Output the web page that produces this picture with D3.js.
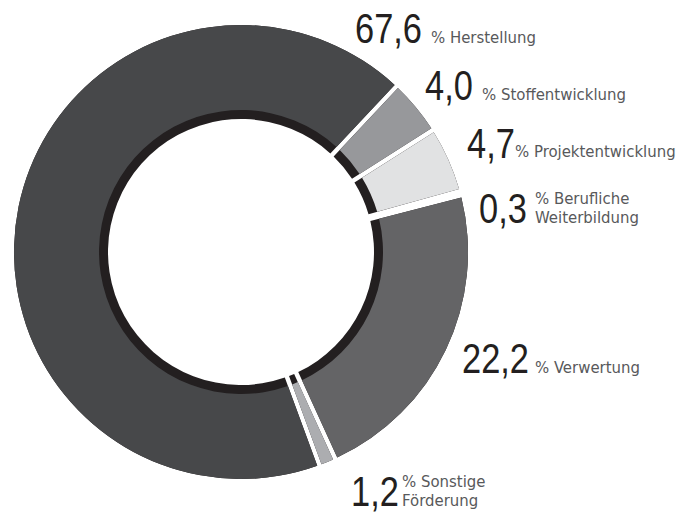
<!DOCTYPE html>
<html><head><meta charset="utf-8">
<script src="https://cdn.jsdelivr.net/npm/d3@7"></script>
<style>
html,body{margin:0;padding:0;background:#fff;}
.num{font-family:"Liberation Sans",Arial,sans-serif;fill:#231f20;font-size:42px;}
.lab{font-family:"DejaVu Sans Condensed","DejaVu Sans",sans-serif;font-stretch:condensed;fill:#58595b;font-size:16.6px;}
</style></head>
<body>
<svg id="c" width="695" height="515"></svg>
<script>
const categories = ["Herstellung","Stoffentwicklung","Projektentwicklung","Berufliche Weiterbildung","Verwertung","Sonstige Förderung"];
const values = [67.6, 4.0, 4.7, 0.3, 22.2, 1.2];
const valueLabels = ["67,6","4,0","4,7","0,3","22,2","1,2"];
const labelLines = [["% Herstellung"],["% Stoffentwicklung"],["% Projektentwicklung"],["% Berufliche","Weiterbildung"],["% Verwertung"],["% Sonstige","Förderung"]];

// styling / layout (not data)
const colors = ["#47484a","#97989b","#e1e2e3","#a3a4a7","#646466","#acadb0"];
const labelPos = [
  {nx:355, ny:43, lx:431, ly:[43]},
  {nx:425, ny:100, lx:482, ly:[100]},
  {nx:467, ny:158, lx:515, ly:[157]},
  {nx:479, ny:223, lx:535, ly:[204,223]},
  {nx:462, ny:373, lx:535, ly:[373]},
  {nx:351, ny:506, lx:402, ly:[487,506]}
];

const svg = d3.select("#c");
const cx = 241, cy = 252, R = 227, rBand = 142, rIn = 133;
const start = 159.8 * Math.PI / 180;
const pie = d3.pie().sort(null).value(d => d).startAngle(start).endAngle(start + 2*Math.PI);
const arcs = pie(values);
const padR = 200, padA = 4.5 / padR;

const g = svg.append("g").attr("transform", `translate(${cx},${cy})`);
const bandArc = d3.arc().innerRadius(rIn).outerRadius(R).padRadius(padR).padAngle(padA);
const mainArc = d3.arc().innerRadius(rBand).outerRadius(R).padRadius(padR).padAngle(padA);

g.selectAll("path.band").data(arcs).join("path").attr("class","band")
  .attr("d", bandArc).attr("fill", "#231f20");
g.selectAll("path.seg").data(arcs).join("path").attr("class","seg")
  .attr("d", mainArc).attr("fill", (d,i) => colors[i]);

const lg = svg.append("g");
categories.forEach((c, i) => {
  const p = labelPos[i];
  lg.append("text").attr("class","num")
    .attr("transform", `translate(${p.nx},${p.ny}) scale(0.82,1)`)
    .text(valueLabels[i]);
  labelLines[i].forEach((ln, j) => {
    lg.append("text").attr("class","lab").attr("x", p.lx).attr("y", p.ly[j]).text(ln);
  });
});
</script>
</body></html>
